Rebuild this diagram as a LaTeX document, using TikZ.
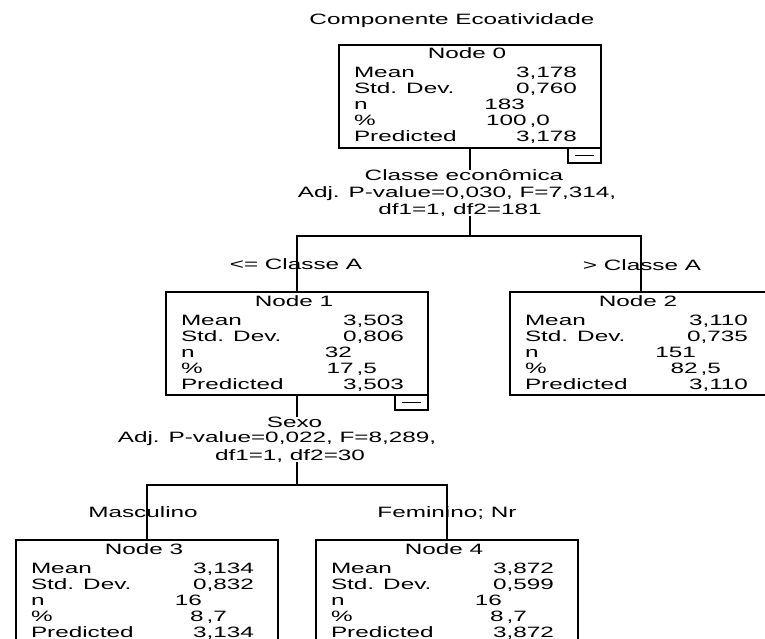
\documentclass[tikz,border=0pt]{standalone}
\usepackage{fontspec}
\setmainfont{Liberation Sans}[FakeStretch=1.62]

\tikzset{
  txt/.style={inner sep=0pt, outer sep=0pt, font=\fontsize{15}{16}\selectfont},
  nodebox/.style={draw, line width=1.6pt, rectangle, minimum width=262pt,
    minimum height=103pt, inner sep=0pt, outer sep=0pt},
  minusbox/.style={draw, line width=1.4pt, rectangle, minimum width=33pt,
    minimum height=15pt, inner sep=0pt, outer sep=0pt,
    path picture={\draw[line width=1.2pt]
      ([xshift=-9.5pt]path picture bounding box.center) --
      ([xshift=9.5pt]path picture bounding box.center);}},
  edge/.style={line width=2pt}
}

% #1 name, #2 centre x, #3 centre y, #4 title, #5 mean, #6 std. dev.,
% #7 n, #8 percent, #9 predicted
\newcommand\spssnode[9]{%
  \node[nodebox] (#1) at (#2,#3) {};
  \path (#1.north) ++(-3,14) node[txt,anchor=base] (#1-t) {#4};
  \path (#1.north west) ++(15,33)
        node[txt,anchor=base west] (#1-l1) {Mean}
        ++(0,16) node[txt,anchor=base west] (#1-l2) {Std. Dev.}
        ++(0,16) node[txt,anchor=base west] (#1-l3) {n}
        ++(0,16) node[txt,anchor=base west] (#1-l4) {\%}
        ++(0,16) node[txt,anchor=base west] (#1-l5) {Predicted};
  \path (#1.north west) ++(238,33)
        node[txt,anchor=base east] (#1-v1) {#5}
        ++(0,16) node[txt,anchor=base east] (#1-v2) {#6};
  \path (#1.north west) ++(186,65) node[txt,anchor=base east] (#1-v3) {#7};
  \path (#1.north west) ++(211,81) node[txt,anchor=base east] (#1-v4) {#8};
  \path (#1.north west) ++(238,97) node[txt,anchor=base east] (#1-v5) {#9};
}

\begin{document}
\begin{tikzpicture}[x=1pt, y=-1pt]
  \fill[white] (0,0) rectangle (765,639);
  \useasboundingbox (0,0) rectangle (765,639);
  \clip (0,0) rectangle (765,639);

  % heading
  \node[txt,anchor=base] (heading) at (452,25) {Componente Ecoatividade};

  % tree nodes
  \spssnode{n0}{470}{96.5}{Node 0}{3,178}{0,760}{183}{100\kern3pt,0}{3,178}
  \spssnode{n1}{297}{343.5}{Node 1}{3,503}{0,806}{32}{17\kern3pt,5}{3,503}
  \spssnode{n2}{641}{343.5}{Node 2}{3,110}{0,735}{151}{82\kern3pt,5}{3,110}
  \spssnode{n3}{147}{591.5}{Node 3}{3,134}{0,832}{16}{8\kern3pt,7}{3,134}
  \spssnode{n4}{447}{591.5}{Node 4}{3,872}{0,599}{16}{8\kern3pt,7}{3,872}

  % collapse markers
  \node[minusbox,anchor=north east] (n0-m) at (n0.south east) {};
  \node[minusbox,anchor=north east] (n1-m) at (n1.south east) {};

  % split descriptions
  \node[txt,anchor=base] (s0a) at (464,181) {Classe econômica};
  \node[txt,anchor=base] (s0b) at (457,197) {Adj. P-value=0,030, F=7,314,};
  \node[txt,anchor=base] (s0c) at (460,214) {df1=1, df2=181};

  \node[txt,anchor=base] (s1a) at (294.5,427) {Sexo};
  \node[txt,anchor=base] (s1b) at (277,442) {Adj. P-value=0,022, F=8,289,};
  \node[txt,anchor=base] (s1c) at (290,460) {df1=1, df2=30};

  % branch junctions
  \coordinate (h0) at (470,236);
  \coordinate (h1) at (297,485);

  % connectors
  \draw[edge] (n0.south) -- (n0.south |- s0a.north);
  \draw[edge] (h0 |- s0c.south) -- (h0);
  \draw[edge] (n1.north) -- (n1.north |- h0) -- (n2.north |- h0) -- (n2.north);

  \draw[edge] (n1.south) -- (n1.south |- s1a.north);
  \draw[edge] (h1 |- s1c.south) -- (h1);
  \draw[edge] (n3.north) -- (n3.north |- h1) -- (n4.north |- h1) -- (n4.north);

  % branch labels
  \node[txt,anchor=base] (b1) at (296,269) {<= Classe A};
  \node[txt,anchor=base] (b2) at (642,270) {> Classe A};
  \node[txt,anchor=base] (b3) at (143,517) {Masculino};
  \node[txt,anchor=base] (b4) at (447,517) {Feminino; Nr};
\end{tikzpicture}
\end{document}
